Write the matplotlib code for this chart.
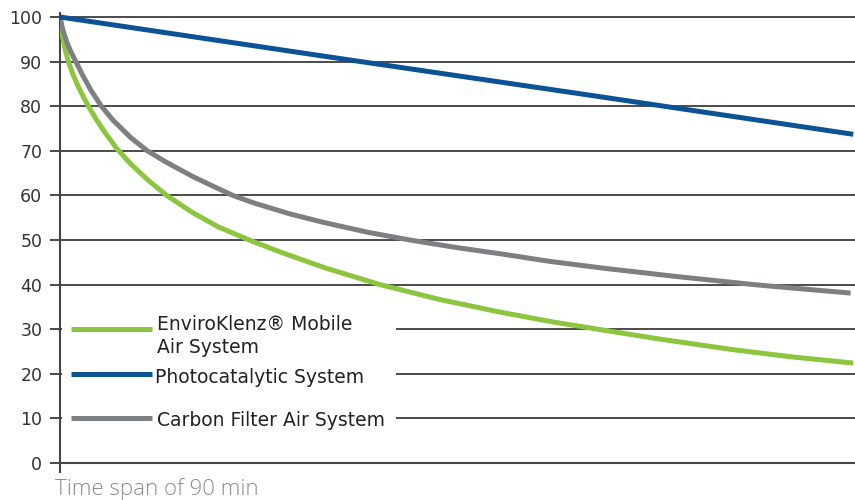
import matplotlib
matplotlib.use("Agg")
import matplotlib.pyplot as plt
from matplotlib.lines import Line2D
from matplotlib.patches import Rectangle
from matplotlib import font_manager

plt.rcParams['font.family'] = ['DejaVu Sans']

# ---- data (time in minutes, remaining %) ----
green_t = [0, 0.12, 0.3, 0.6, 0.95, 1.4, 2, 2.6, 3.2, 4, 5, 6.4, 8, 10, 12.1, 15, 18, 21.6, 25, 30, 36.3, 43, 50, 56, 61, 68, 76.4, 83, 90]
green_v = [100, 97.8, 95.6, 92.6, 90, 87.5, 84.7, 82.3, 80.1, 77.4, 74.4, 70.6, 67.1, 63.4, 60.0, 56.2, 52.9, 49.9, 47.3, 43.8, 40.0, 36.7, 33.8, 31.6, 30.0, 27.8, 25.4, 23.8, 22.4]

blue_t = [0, 30, 60, 90]
blue_v = [100, 91.2, 82.5, 73.7]

gray_t = [0, 0.3, 0.8, 1.3, 1.8, 2.5, 3.5, 4.7, 6, 8, 9.9, 12, 15, 17, 19.6, 22, 26, 30, 35, 39.7, 45, 50, 55.6, 62, 70, 78.7, 85, 89.7]
gray_v = [100, 97.3, 94.2, 91.9, 90, 87.2, 83.6, 80, 76.9, 73.0, 70.0, 67.5, 64.3, 62.4, 60.0, 58.3, 55.9, 53.9, 51.7, 50.0, 48.3, 46.9, 45.2, 43.6, 41.8, 40.0, 38.9, 38.1]

y_ticks = [0, 10, 20, 30, 40, 50, 60, 70, 80, 90, 100]
label_lines = [["EnviroKlenz\u00ae Mobile", "Air System"], ["Photocatalytic System"], ["Carbon Filter Air System"]]
x_caption = "Time span of 90 min"

c_green = "#8cc63f"
c_blue = "#0b5394"
c_gray = "#7d7f83"

W, H = 855, 500
fig = plt.figure(figsize=(W / 100, H / 100), dpi=100)

def fx(px):
    return px / W

def fy(py):
    return 1 - py / H

ax_left, ax_right = 60, 855
ax_bottom, ax_top = 463, 463 - 101 * 4.46
ax = fig.add_axes([fx(ax_left), fy(ax_bottom), fx(ax_right) - fx(ax_left), fy(ax_top) - fy(ax_bottom)])

ax.set_xlim(0, 90.2)
ax.set_ylim(0, 101)

kw = dict(lw=3.6, solid_capstyle='butt', solid_joinstyle='round')
ax.plot(green_t, green_v, color=c_green, zorder=3, **kw)
ax.plot(gray_t, gray_v, color=c_gray, zorder=3, **kw)
ax.plot(blue_t, blue_v, color=c_blue, zorder=4, **kw)

ax.set_yticks(y_ticks)
ax.set_yticklabels([str(v) for v in y_ticks])
ax.yaxis.grid(True, color="#1a1a1a", lw=1.1)
ax.set_axisbelow(True)
ax.tick_params(axis='y', length=7.2, width=1.1, color="#1a1a1a", pad=5.5, labelsize=12.5, labelcolor="#333333")
ax.set_xticks([0])
ax.set_xticklabels([""])
ax.tick_params(axis='x', length=7.5, width=1.5, color="#444444")

for s in ["top", "right"]:
    ax.spines[s].set_visible(False)
for s in ["left", "bottom"]:
    ax.spines[s].set_color("#444444")
    ax.spines[s].set_linewidth(1.5)

# legend (drawn manually in figure coordinates)
fig.add_artist(Rectangle((fx(62), fy(446)), fx(396) - fx(62), fy(298) - fy(446),
                         transform=fig.transFigure, facecolor="white", edgecolor="none", zorder=2))
key_rows = [(329.3, c_green, 157, [330, 353]), (374, c_blue, 155, [383]), (418.3, c_gray, 156.5, [426.5])]
for (ky, col, tx, bls), lines in zip(key_rows, label_lines):
    fig.add_artist(Line2D([fx(71), fx(152)], [fy(ky), fy(ky)], transform=fig.transFigure,
                          color=col, lw=3.6, solid_capstyle='butt', zorder=3))
    for txt, bl in zip(lines, bls):
        fig.text(fx(tx), fy(bl), txt, ha="left", va="baseline", fontsize=13.5, color="#222222", zorder=4)

# thin caption font if a light face is available
cap_family, cap_weight, cap_size, cap_color = ['DejaVu Sans'], 'normal', 14, "#a0a0a0"
for fam in ["Lato", "Open Sans", "Roboto", "Inter"]:
    try:
        fp = font_manager.FontProperties(family=fam, weight='light')
        path = font_manager.findfont(fp, fallback_to_default=False)
        if "light" in path.lower():
            cap_family, cap_weight, cap_size, cap_color = [fam], 'light', 16, "#8c8c8c"
            break
    except Exception:
        pass

fig.text(fx(55), fy(495), x_caption, ha="left", va="baseline", fontsize=cap_size,
         color=cap_color, fontweight=cap_weight, family=cap_family)

fig.savefig("out.png", dpi=100)
